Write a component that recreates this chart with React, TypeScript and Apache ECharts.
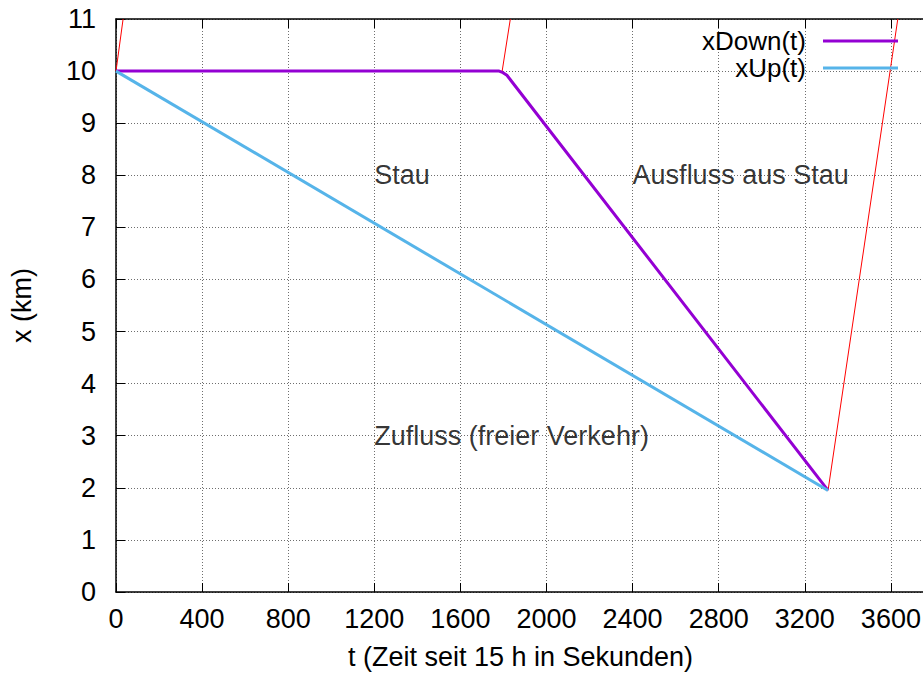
import React, { useEffect, useRef } from "react";
import * as echarts from "echarts";

// Data (t in seconds since 15 h, x in km)
const xDownT = [0, 1780, 1798, 1816, 3308];
const xDownX = [10, 10, 9.97, 9.92, 1.95];
const xUpT = [0, 3308];
const xUpX = [10, 1.95];
// Vehicle trajectories (red)
const veh1T = [0, 33];
const veh1X = [10, 11];
const veh2T = [1794, 1832];
const veh2X = [10, 11];
const veh3T = [3308, 3632];
const veh3X = [1.95, 11];
const annoT = [1200, 2400, 1200];
const annoX = [8, 8, 3];
const annoText = ["Stau", "Ausfluss aus Stau", "Zufluss (freier Verkehr)"];

const zip = (a: number[], b: number[]) => a.map((v, i) => [v, b[i]]);

const FONT = "'Liberation Sans', Arial, sans-serif";
const FS = 27;
const CHART_W = 1000;

export default function App() {
  const ref = useRef<HTMLDivElement>(null);
  useEffect(() => {
    if (!ref.current) return;
    const chart = echarts.init(ref.current, undefined, { renderer: "svg" });
    const redLine = (data: number[][]) => ({
      type: "line",
      data,
      showSymbol: false,
      symbol: "none",
      lineStyle: { color: "#ff0000", width: 1 },
      itemStyle: { color: "#ff0000" },
      clip: true,
      silent: true,
      z: 3,
    });
    chart.setOption({
      animation: false,
      backgroundColor: "#fff",
      textStyle: { fontFamily: FONT },
      grid: { left: 115, top: 19, bottom: 85, right: CHART_W - 977, containLabel: false },
      legend: {
        data: ["xDown(t)", "xUp(t)"],
        orient: "vertical",
        align: "right",
        right: CHART_W - 898,
        top: 28,
        padding: 0,
        itemGap: 1,
        itemWidth: 75,
        itemHeight: 3,
        icon: "rect",
        textStyle: {
          fontFamily: FONT,
          fontSize: 26,
          color: "#000",
          lineHeight: 26,
          padding: [0, 12, 0, 0],
        },
      },
      xAxis: [
        {
          type: "value",
          min: 0,
          max: 4000,
          interval: 400,
          name: "t (Zeit seit 15 h in Sekunden)",
          nameLocation: "middle",
          nameGap: 51,
          nameTextStyle: { fontFamily: FONT, fontSize: FS, color: "#000", padding: [0, 52, 0, 0] },
          axisLine: { show: true, onZero: false, lineStyle: { color: "#000", width: 1.5 } },
          axisTick: { show: true, inside: true, length: 9, lineStyle: { color: "#000", width: 1 } },
          axisLabel: {
            fontFamily: FONT,
            fontSize: FS,
            color: "#000",
            margin: 13,
            showMaxLabel: false,
            formatter: (v: number) => String(v),
          },
          splitLine: { show: true, lineStyle: { color: "#6e6e6e", type: [1, 2], width: 1 } },
        },
        {
          type: "value",
          position: "top",
          min: 0,
          max: 4000,
          interval: 400,
          axisLine: { show: true, onZero: false, lineStyle: { color: "#000", width: 1.5 } },
          axisTick: { show: true, inside: true, length: 9, lineStyle: { color: "#000", width: 1 } },
          axisLabel: { show: false },
          splitLine: { show: false },
        },
      ],
      yAxis: {
        type: "value",
        min: 0,
        max: 11,
        interval: 1,
        name: "x (km)",
        nameLocation: "middle",
        nameGap: 81,
        nameRotate: 90,
        nameTextStyle: { fontFamily: FONT, fontSize: FS, color: "#000" },
        axisLine: { show: true, onZero: false, lineStyle: { color: "#000", width: 1.5 } },
        axisTick: { show: true, inside: true, length: 9, lineStyle: { color: "#000", width: 1 } },
        axisLabel: {
          fontFamily: FONT,
          fontSize: FS,
          color: "#000",
          margin: 20,
          formatter: (v: number) => String(v),
        },
        splitLine: { show: true, lineStyle: { color: "#6e6e6e", type: [1, 2], width: 1 } },
      },
      series: [
        redLine(zip(veh1T, veh1X)),
        redLine(zip(veh2T, veh2X)),
        redLine(zip(veh3T, veh3X)),
        {
          name: "xDown(t)",
          type: "line",
          data: zip(xDownT, xDownX),
          showSymbol: false,
          symbol: "none",
          lineStyle: { color: "#9400d3", width: 3 },
          itemStyle: { color: "#9400d3" },
          z: 4,
        },
        {
          name: "xUp(t)",
          type: "line",
          data: zip(xUpT, xUpX),
          showSymbol: false,
          symbol: "none",
          lineStyle: { color: "#56b4e9", width: 3 },
          itemStyle: { color: "#56b4e9" },
          z: 5,
        },
        {
          type: "scatter",
          symbolSize: 0,
          silent: true,
          data: annoT.map((t, i) => ({ value: [t, annoX[i]], name: annoText[i] })),
          label: {
            show: true,
            formatter: "{b}",
            position: "right",
            distance: 0,
            fontFamily: FONT,
            fontSize: FS,
            color: "#000",
          },
          z: 6,
        },
      ],
    });
    return () => chart.dispose();
  }, []);
  return (
    <div style={{ position: "absolute", left: 0, top: 0, width: 923, height: 677, overflow: "hidden" }}>
      <div ref={ref} style={{ width: CHART_W, height: 677 }} />
    </div>
  );
}
